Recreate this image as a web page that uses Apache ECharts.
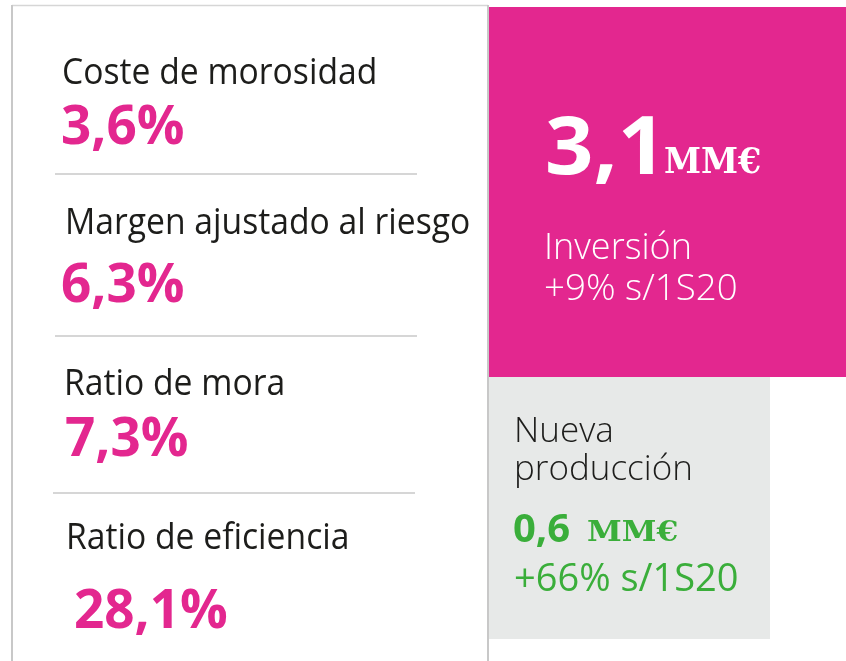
<!DOCTYPE html>
<html>
<head>
<meta charset="utf-8">
<script src="https://cdn.jsdelivr.net/npm/echarts@6/dist/echarts.min.js"></script>
<style>
html,body{margin:0;padding:0;background:#fff;}
#main{width:846px;height:661px;}
</style>
</head>
<body>
<div id="main"></div>
<script>
// ---- data ----
var kpiLabels = ['Coste de morosidad', 'Margen ajustado al riesgo', 'Ratio de mora', 'Ratio de eficiencia'];
var kpiValues = ['3,6%', '6,3%', '7,3%', '28,1%'];
var investValue = '3,1';
var investUnit = 'MM€';
var investLabel = 'Inversión';
var investChange = '+9% s/1S20';
var prodLabel = ['Nueva', 'producción'];
var prodValue = '0,6';
var prodUnit = 'MM€';
var prodChange = '+66% s/1S20';

// ---- layout / style ----
var PINK = '#e3278f', GREEN = '#3aae3a', DARK = '#1d1d1b', GRAYBG = '#e7e9e8', LINE = '#c8c8c8';
var SANS = '"Open Sans", "Noto Sans", sans-serif';
var SERIF = '"DejaVu Serif", "Liberation Serif", serif';

// text placed by left x and baseline y (canvas 'middle' sits ~0.29em above baseline)
function txt(str, x, baseY, size, weight, color, family, sx) {
  var mid = (family === SERIF ? 0.297 : 0.285) * size;
  return {
    type: 'text',
    x: x, y: baseY - mid,
    scaleX: sx || 1,
    style: {
      text: str, x: 0, y: 0,
      font: weight + ' ' + size + 'px ' + (family || SANS),
      fill: color, align: 'left', verticalAlign: 'middle'
    },
    silent: true
  };
}

var labelPos = [[62, 84], [65, 234], [64, 395], [66, 549]];
var valuePos = [[61, 144], [61, 302], [65, 456], [74, 628]];
var sepY = [174, 336, 493];

var els = [];
// left box border
els.push({ type: 'line', shape: { x1: 12, y1: 5.5, x2: 488, y2: 5.5 }, style: { stroke: '#d6d6d6', lineWidth: 1.5 } });
els.push({ type: 'line', shape: { x1: 12, y1: 5, x2: 12, y2: 661 }, style: { stroke: LINE, lineWidth: 2 } });
els.push({ type: 'line', shape: { x1: 488, y1: 5, x2: 488, y2: 661 }, style: { stroke: LINE, lineWidth: 2 } });
// separators
sepY.forEach(function (y, i) {
  var x0 = i === 2 ? 53 : 55, x1 = i === 2 ? 415 : 417;
  els.push({ type: 'line', shape: { x1: x0, y1: y, x2: x1, y2: y }, style: { stroke: LINE, lineWidth: 1.5 } });
});
// panels
els.push({ type: 'rect', shape: { x: 489, y: 7, width: 357, height: 370 }, style: { fill: PINK } });
els.push({ type: 'rect', shape: { x: 489, y: 377, width: 281, height: 262 }, style: { fill: GRAYBG } });

// KPI texts
kpiLabels.forEach(function (l, i) {
  els.push(txt(l, labelPos[i][0], labelPos[i][1], 37, 'normal', DARK, SANS, 0.91));
});
kpiValues.forEach(function (v, i) {
  els.push(txt(v, valuePos[i][0], valuePos[i][1], 53, 'bold', PINK, SANS, 1));
});

// investment panel
els.push(txt(investValue, 545, 174, 80, 'bold', '#fff', SANS, 1.06));
els.push(txt(investUnit, 664, 174, 36, 'bold', '#fff', SERIF, 0.93));
els.push(txt(investLabel, 544, 259, 36, '300', '#fff', SANS, 1.0));
els.push(txt(investChange, 544, 300, 36, '300', '#fff', SANS, 1.02));

// production panel
els.push(txt(prodLabel[0], 514, 442, 35, '300', DARK, SANS, 1));
els.push(txt(prodLabel[1], 514, 480, 35, '300', DARK, SANS, 1));
els.push(txt(prodValue, 513, 542, 40, 'bold', GREEN, SANS, 1));
els.push(txt(prodUnit, 587, 542, 28, 'bold', GREEN, SERIF, 1.12));
els.push(txt(prodChange, 514, 591, 38, 'normal', GREEN, SANS, 1.0));

var chart = echarts.init(document.getElementById('main'), null, { renderer: 'canvas' });
chart.setOption({
  backgroundColor: '#ffffff',
  animation: false,
  graphic: { elements: els }
});
</script>
</body>
</html>
